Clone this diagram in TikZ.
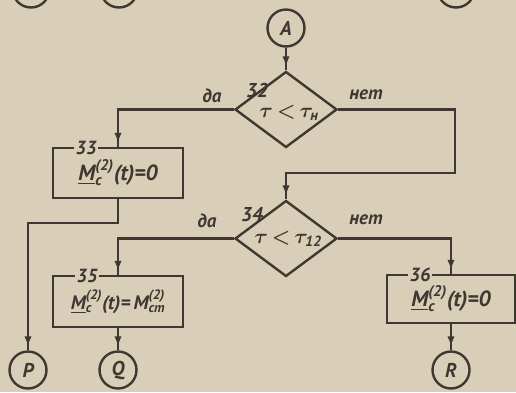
\documentclass[tikz,border=0pt]{standalone}
\usepackage{amsmath}
\usepackage{fontspec}
\setmainfont{PT Sans}
\usetikzlibrary{shapes.geometric,arrows.meta,decorations.markings}
\definecolor{bg}{HTML}{D9CFB9}
\definecolor{ink}{HTML}{3E3831}
\tikzset{
  every node/.style={font=\fontsize{20}{22}\selectfont\bfseries\itshape, text=ink},
  ln/.style={draw=ink, line width=2.4pt},
  arr/.style={ln, postaction={decorate}, decoration={markings,
     mark=at position -4pt with {\arrow[ink]{Latex[length=10pt,width=7.5pt]}}}},
  conn/.style={circle, draw=ink, line width=2.4pt, minimum size=37pt, inner sep=0pt},
  proc/.style={rectangle, draw=ink, line width=2.4pt, inner sep=0pt, font=\fontsize{22}{24}\selectfont\bfseries\itshape},
  dec/.style={diamond, draw=ink, line width=2.4pt, inner sep=0pt, minimum width=102pt, minimum height=76pt},
  lab/.style={fill=bg, inner sep=1.5pt, font=\fontsize{19}{20}\selectfont\bfseries\itshape},
  yn/.style={font=\fontsize{19}{20}\selectfont\bfseries\itshape},
  mth/.style={font=\fontsize{21}{22}\selectfont\bfseries\itshape\boldmath}
}
\newcommand\Mcc{$\underline{\text{M}}^{\text{(2)}}_{\text{с}}$}
\begin{document}
\begin{tikzpicture}[x=1pt,y=-1pt]
\fill[bg] (0,0) rectangle (516,392);
\useasboundingbox (0,0) rectangle (516,392);
% partial circles at the top edge
\begin{scope}
\clip (0,0) rectangle (516,392);
\node[conn] (t1) at (31,-11) {};
\node[conn] (t2) at (119,-11) {};
\node[conn] (t3) at (456,-11) {};
\end{scope}
% nodes
\node[conn] (A) at (286,28) {A};
\node[dec] (d32) at (286,109.5) {};
\node[mth] at (289,113) (e32) {$\tau\,{<}\,\tau_{\text{н}}$};
\node at (257,90) (n32) {32};
\node[yn] at (212,96) (y32) {да};
\node[yn] at (366,95) (x32) {нет};
\node[proc, minimum width=130pt, minimum height=50pt] (b33) at (118,173) {\Mcc(t)=0};
\node[lab] (l33) at (86,148) {33};
\node[dec] (d34) at (286,238.5) {};
\node[mth] at (288,239) (e34) {$\tau\,{<}\,\tau_{\text{12}}$};
\node at (252,215) (n34) {34};
\node[yn] at (207,221) (y34) {да};
\node[yn] at (366,220) (x34) {нет};
\node[proc, minimum width=130pt, minimum height=51pt, font=\fontsize{19.5}{22}\selectfont\bfseries\itshape] (b35) at (118,301.5) {\Mcc(t)=\,M$^{\text{(2)}}_{\text{ст}}$};
\node[lab] (l35) at (87,276) {35};
\node[proc, minimum width=128pt, minimum height=48pt] (b36) at (451,299) {\Mcc(t)=0};
\node[lab] (l36) at (420,275) {36};
\node[conn] (P) at (28,370) {P};
\node[conn] (Q) at (118,370) {Q};
\node[conn] (R) at (451,370) {R};
% corner coordinates
\coordinate (k1) at (455,109.5);
\coordinate (k2) at (455,173);
\coordinate (k3) at (118,223);
% connectors
\draw[arr] (A) -- (d32);
\draw[arr] (d32.west) -| (b33.north);
\draw[arr] (d32.east) -- (k1) -- (k2) -| (d34.north);
\draw[arr] (d34.west) -| (b35.north);
\draw[arr] (d34.east) -| (b36.north);
\draw[arr] (b33.south) -- (k3) -| (P.north);
\draw[arr] (b35) -- (Q);
\draw[arr] (b36) -- (R);
\end{tikzpicture}
\end{document}
